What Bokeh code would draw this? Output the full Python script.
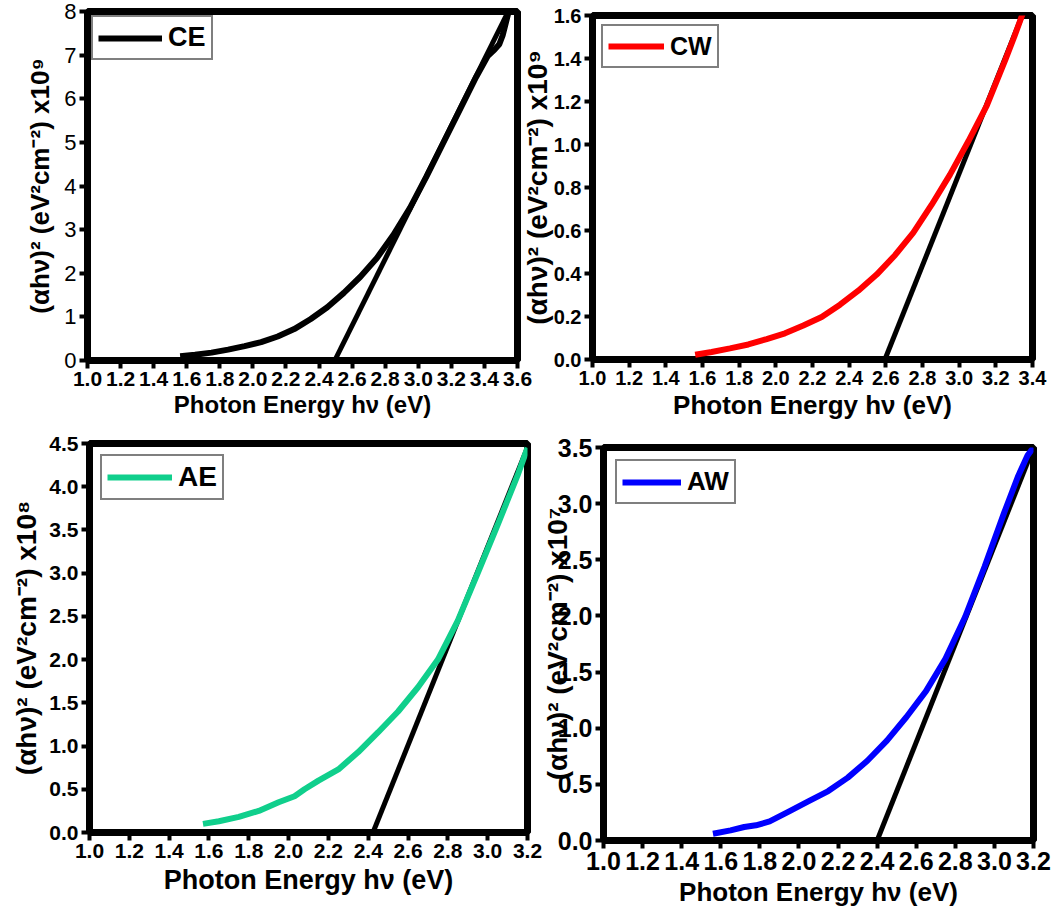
from bokeh.plotting import figure
from bokeh.layouts import column, row
from bokeh.models import Range1d, FixedTicker, PrintfTickFormatter
from bokeh.embed import file_html
from bokeh.resources import INLINE

FONT = "Liberation Sans"

# ---------------- data ----------------
ce_x = [1.56, 1.65, 1.75, 1.85, 1.95, 2.05, 2.15, 2.25, 2.35, 2.45, 2.55, 2.65, 2.75,
        2.85, 2.95, 3.05, 3.15, 3.25, 3.35, 3.42, 3.46, 3.49, 3.51, 3.53, 3.55]
ce_y = [0.10, 0.13, 0.18, 0.25, 0.33, 0.42, 0.55, 0.72, 0.95, 1.22, 1.55, 1.92, 2.35,
        2.88, 3.50, 4.22, 4.98, 5.74, 6.50, 6.98, 7.12, 7.25, 7.45, 7.75, 8.05]
ce_fit_x = [2.495, 3.544]
ce_fit_y = [0.0, 8.0]

cw_x = [1.56, 1.65, 1.75, 1.85, 1.95, 2.05, 2.15, 2.25, 2.35, 2.45, 2.55, 2.65, 2.75,
        2.85, 2.95, 3.05, 3.15, 3.25, 3.30, 3.33, 3.36, 3.40]
cw_y = [0.022, 0.035, 0.052, 0.070, 0.095, 0.122, 0.158, 0.198, 0.255, 0.320, 0.395,
        0.485, 0.590, 0.720, 0.860, 1.015, 1.180, 1.390, 1.500, 1.570, 1.640, 1.720]
cw_fit_x = [2.595, 3.344]
cw_fit_y = [0.0, 1.6]

ae_x = [1.57, 1.65, 1.75, 1.85, 1.95, 2.03, 2.08, 2.15, 2.25, 2.35, 2.45, 2.55, 2.65,
        2.75, 2.85, 2.95, 3.05, 3.15, 3.20]
ae_y = [0.10, 0.13, 0.18, 0.25, 0.35, 0.42, 0.50, 0.60, 0.73, 0.93, 1.16, 1.40, 1.68,
        2.00, 2.45, 3.00, 3.56, 4.13, 4.45]
ae_fit_x = [2.424, 3.208]
ae_fit_y = [0.0, 4.5]

aw_x = [1.56, 1.65, 1.72, 1.78, 1.85, 1.95, 2.05, 2.15, 2.25, 2.35, 2.45, 2.55, 2.65,
        2.75, 2.85, 2.95, 3.05, 3.12, 3.17, 3.20]
aw_y = [0.06, 0.09, 0.12, 0.135, 0.17, 0.26, 0.35, 0.44, 0.56, 0.71, 0.89, 1.10, 1.33,
        1.62, 1.99, 2.44, 2.92, 3.24, 3.43, 3.50]
aw_fit_x = [2.40, 3.20]
aw_fit_y = [0.0, 3.5]

xticks_36 = [1.0, 1.2, 1.4, 1.6, 1.8, 2.0, 2.2, 2.4, 2.6, 2.8, 3.0, 3.2, 3.4, 3.6]
xticks_34 = [1.0, 1.2, 1.4, 1.6, 1.8, 2.0, 2.2, 2.4, 2.6, 2.8, 3.0, 3.2, 3.4]
xticks_32 = [1.0, 1.2, 1.4, 1.6, 1.8, 2.0, 2.2, 2.4, 2.6, 2.8, 3.0, 3.2]
yticks_ce = [0, 1, 2, 3, 4, 5, 6, 7, 8]
yticks_cw = [0.0, 0.2, 0.4, 0.6, 0.8, 1.0, 1.2, 1.4, 1.6]
yticks_ae = [0.0, 0.5, 1.0, 1.5, 2.0, 2.5, 3.0, 3.5, 4.0, 4.5]
yticks_aw = [0.0, 0.5, 1.0, 1.5, 2.0, 2.5, 3.0, 3.5]

XLABEL = "Photon Energy h\u03bd (eV)"


def ylabel(exp):
    return "(\u03b1h\u03bd)\u00b2 (eV\u00b2cm\u207b\u00b2) x10" + exp


def make_panel(width, height, borders, xr, yr, xticks, yticks, yfmt,
               cx, cy, color, fx, fy, name, ylab, xlab_size, ylab_size,
               tick_size, ytick_style, ytick_size, leg_size, leg_glyph_w,
               leg_margin, ylab_standoff, xlab_standoff, shift=0):
    left, right, top, bottom = borders
    p = figure(width=width, height=height, output_backend="svg",
               toolbar_location=None, x_range=Range1d(*xr), y_range=Range1d(*yr),
               min_border_left=left, min_border_right=right,
               min_border_top=top, min_border_bottom=bottom)
    p.xgrid.visible = False
    p.ygrid.visible = False
    p.outline_line_color = "black"
    p.outline_line_width = 7
    p.background_fill_color = "white"
    p.border_fill_alpha = 0.0

    p.line(fx, fy, line_color="black", line_width=5)
    p.line(cx, cy, line_color=color, line_width=6, legend_label=name)

    for ax in (p.xaxis[0], p.yaxis[0]):
        ax.axis_line_color = None
        ax.major_tick_out = 8
        ax.major_tick_in = 0
        ax.major_tick_line_width = 4
        ax.major_tick_line_color = "black"
        ax.minor_tick_line_color = None
        ax.major_label_standoff = 3
        ax.axis_label_text_font = FONT
        ax.axis_label_text_font_style = "bold"
        ax.axis_label_text_color = "black"
        ax.major_label_text_font = FONT
        ax.major_label_text_color = "black"

    xa = p.xaxis[0]
    xa.ticker = FixedTicker(ticks=xticks)
    xa.formatter = PrintfTickFormatter(format="%.1f")
    xa.major_label_text_font_size = f"{tick_size}px"
    xa.major_label_text_font_style = "bold"
    xa.axis_label = XLABEL
    xa.axis_label_text_font_size = f"{xlab_size}px"
    xa.axis_label_standoff = xlab_standoff

    ya = p.yaxis[0]
    ya.ticker = FixedTicker(ticks=yticks)
    ya.formatter = PrintfTickFormatter(format=yfmt)
    ya.major_label_text_font_size = f"{ytick_size}px"
    ya.major_label_text_font_style = ytick_style
    ya.axis_label = ylab
    ya.axis_label_text_font_size = f"{ylab_size}px"
    ya.axis_label_standoff = ylab_standoff

    lg = p.legend[0]
    lg.location = "top_left"
    lg.margin = leg_margin
    lg.padding = 5
    lg.spacing = 0
    lg.label_standoff = 6
    lg.glyph_width = leg_glyph_w
    lg.glyph_height = 30
    lg.label_text_font = FONT
    lg.label_text_font_style = "bold"
    lg.label_text_font_size = f"{leg_size}px"
    lg.label_text_color = "black"
    lg.border_line_color = "black"
    lg.border_line_width = 2
    lg.background_fill_alpha = 1.0

    box = column(p)
    if shift:
        box.margin = (0, 0, 0, -shift)
    return box


p1 = make_panel(545, 430, (87, 28, 11, 70), (1.0, 3.6), (0, 8), xticks_36, yticks_ce,
                "%d", ce_x, ce_y, "black", ce_fit_x, ce_fit_y, "CE", ylabel("\u2079"),
                24, 26, 21, "normal", 22, 27, 64, 4, 6, 2)
p2 = make_panel(538, 430, (71, 24, 15, 71), (1.0, 3.4), (0, 1.6), xticks_34, yticks_cw,
                "%.1f", cw_x, cw_y, "#ff0000", cw_fit_x, cw_fit_y, "CW", ylabel("\u2079"),
                26, 28, 20, "bold", 20, 25, 56, 9, -2, 2, shift=27)
p3 = make_panel(544, 484, (89, 17, 13, 82), (1.0, 3.2), (0, 4.5), xticks_32, yticks_ae,
                "%.1f", ae_x, ae_y, "#10cf8c", ae_fit_x, ae_fit_y, "AE", ylabel("\u2078"),
                27, 28, 21, "bold", 21, 28, 65, 11, 4, 4)
p4 = make_panel(528, 484, (75, 23, 17, 74), (1.0, 3.2), (0, 3.5), xticks_32, yticks_aw,
                "%.1f", aw_x, aw_y, "#0000ff", aw_fit_x, aw_fit_y, "AW", ylabel("\u2077"),
                26, 28, 25, "bold", 25, 26, 59, 12, -18, 4, shift=16)

layout = column(row(p1, p2), row(p3, p4))

open("out.html", "w").write(file_html(layout, INLINE))
